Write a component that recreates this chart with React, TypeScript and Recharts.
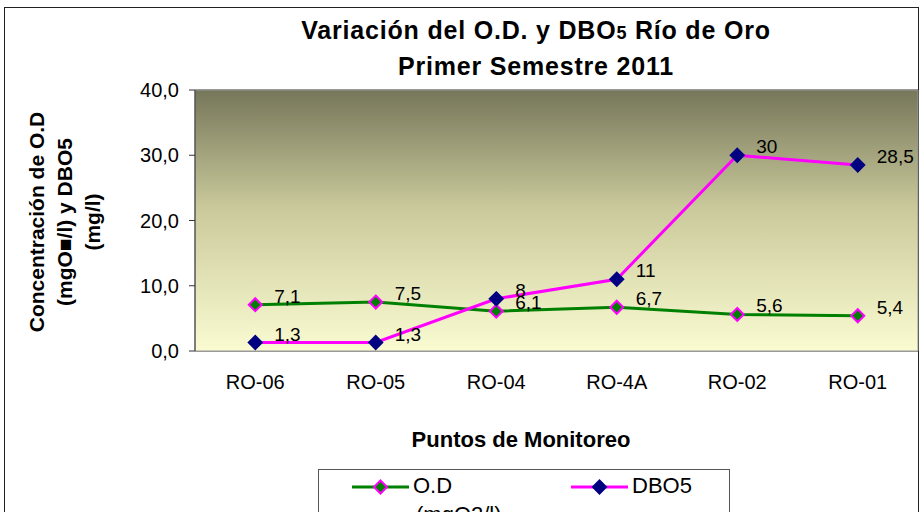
import React from 'react';
import { LineChart, Line, XAxis, YAxis, CartesianGrid, ReferenceArea, LabelList } from 'recharts';

const categories = ['RO-06', 'RO-05', 'RO-04', 'RO-4A', 'RO-02', 'RO-01'];
const odValues = [7.1, 7.5, 6.1, 6.7, 5.6, 5.4];
const dboValues = [1.3, 1.3, 8, 11, 30, 28.5];
const yTicks = [0, 10, 20, 30, 40];
const bandTicks = [-0.5, 0.5, 1.5, 2.5, 3.5, 4.5, 5.5];

const data = categories.map((c, i) => ({ idx: i, name: c, od: odValues[i], dbo: dboValues[i] }));

const FONT = '"Liberation Sans", Arial, sans-serif';

const fmtLabel = (v: number) => String(v).replace('.', ',');

const Diamond = (fill: string, stroke: string) => (props: any) => {
  const { cx, cy } = props;
  if (cx == null || cy == null) return null;
  const r = 6.5;
  return (
    <path
      d={`M${cx},${cy - r}L${cx + r},${cy}L${cx},${cy + r}L${cx - r},${cy}Z`}
      fill={fill}
      stroke={stroke}
      strokeWidth={2}
    />
  );
};

const PointLabel = (props: any) => {
  const { x, y, value } = props;
  return (
    <text x={x + 19} y={y - 7} fontSize={19} fontFamily={FONT} fill="#000" dominantBaseline="middle">
      {fmtLabel(value)}
    </text>
  );
};

export default function App() {
  return (
    <div style={{ position: 'absolute', left: 0, top: 0, width: 922, height: 512, background: '#fff', overflow: 'hidden', fontFamily: FONT }}>
      <div style={{ position: 'absolute', left: 4, top: 7, width: 915, height: 520, border: '1px solid #222', boxSizing: 'border-box' }} />
      <div style={{ position: 'absolute', left: 136, top: 14, width: 800, textAlign: 'center', fontWeight: 'bold', fontSize: 25, lineHeight: '33px', letterSpacing: 0.8, color: '#000' }}>
        <div>Variación del O.D. y DBO<span style={{ fontSize: 18 }}>5</span> Río de Oro</div>
        <div>Primer Semestre 2011</div>
      </div>
      <div
        style={{
          position: 'absolute',
          left: 65 - 160,
          top: 222 - 45,
          width: 320,
          height: 90,
          transform: 'rotate(-90deg)',
          textAlign: 'center',
          fontWeight: 'bold',
          fontSize: 21,
          lineHeight: '28px',
          color: '#000',
          display: 'flex',
          flexDirection: 'column',
          justifyContent: 'center',
        }}
      >
        <div>Concentración de O.D</div>
        <div>(mgO■/l) y DBO5</div>
        <div>(mg/l)</div>
      </div>
      <div style={{ position: 'absolute', left: 521 - 200, top: 427, width: 400, textAlign: 'center', fontWeight: 'bold', fontSize: 22, lineHeight: '26px', color: '#000' }}>
        Puntos de Monitoreo
      </div>
      <div style={{ position: 'absolute', left: 318, top: 469, width: 412, height: 60, border: '1px solid #555', boxSizing: 'border-box', background: '#fff' }}>
        <svg width={410} height={60} style={{ position: 'absolute', left: 0, top: 0 }}>
          <line x1={33} y1={17} x2={90} y2={17} stroke="#008000" strokeWidth={3} />
          <path d="M61.5,10.5L68,17L61.5,23.5L55,17Z" fill="#008000" stroke="#ff00ff" strokeWidth={2} />
          <line x1={252} y1={17} x2={309} y2={17} stroke="#ff00ff" strokeWidth={3} />
          <path d="M280.5,10.5L287,17L280.5,23.5L274,17Z" fill="#000080" stroke="#000080" strokeWidth={2} />
        </svg>
        <div style={{ position: 'absolute', left: 94, top: 2, fontSize: 22, lineHeight: '28px', color: '#000' }}>O.D</div>
        <div style={{ position: 'absolute', left: 313, top: 2, fontSize: 22, lineHeight: '28px', color: '#000' }}>DBO5</div>
        <div style={{ position: 'absolute', left: 97, top: 31, fontSize: 22, lineHeight: '28px', color: '#000' }}>(mgO2/l)</div>
      </div>
      <div style={{ position: 'absolute', left: 0, top: 0 }}>
        <LineChart width={922} height={512} data={data} margin={{ top: 90, right: 4, bottom: 121, left: 0 }}>
          <defs>
            <linearGradient id="bgGrad" x1="0" y1="0" x2="0" y2="1">
              <stop offset="0%" stopColor="#76765a" />
              <stop offset="45%" stopColor="#c9c99b" />
              <stop offset="100%" stopColor="#fbfbd2" />
            </linearGradient>
          </defs>
          <XAxis
            xAxisId="ticks"
            type="number"
            domain={[-0.5, 5.5]}
            ticks={bandTicks}
            tick={false}
            tickSize={6}
            height={0}
            axisLine={{ stroke: '#333' }}
            tickLine={{ stroke: '#333' }}
            allowDataOverflow
          />
          <XAxis
            xAxisId="main"
            type="number"
            dataKey="idx"
            domain={[-0.5, 5.5]}
            ticks={[0, 1, 2, 3, 4, 5]}
            tickFormatter={(i: number) => categories[i]}
            axisLine={false}
            tickLine={false}
            tickSize={0}
            tickMargin={24}
            height={40}
            tick={{ fontSize: 20, fill: '#000', fontFamily: FONT }}
            allowDataOverflow
          />
          <YAxis
            width={195}
            domain={[0, 40]}
            ticks={yTicks}
            tickFormatter={(v: number) => v.toFixed(1).replace('.', ',')}
            tickSize={6}
            tickMargin={10}
            axisLine={{ stroke: '#333' }}
            tickLine={{ stroke: '#333' }}
            tick={{ fontSize: 20, fill: '#000', fontFamily: FONT }}
          />
          <ReferenceArea xAxisId="main" y1={0} y2={40} fill="url(#bgGrad)" fillOpacity={1} stroke="#999" strokeWidth={1} />
          <CartesianGrid xAxisId="main" vertical={false} stroke="#333" strokeOpacity={1} />
          <Line
            xAxisId="main"
            dataKey="od"
            stroke="#008000"
            strokeWidth={3}
            dot={Diamond('#008000', '#ff00ff')}
            isAnimationActive={false}
          >
            <LabelList dataKey="od" content={PointLabel} />
          </Line>
          <Line
            xAxisId="main"
            dataKey="dbo"
            stroke="#ff00ff"
            strokeWidth={3}
            dot={Diamond('#000080', '#000080')}
            isAnimationActive={false}
          >
            <LabelList dataKey="dbo" content={PointLabel} />
          </Line>
        </LineChart>
      </div>
    </div>
  );
}
